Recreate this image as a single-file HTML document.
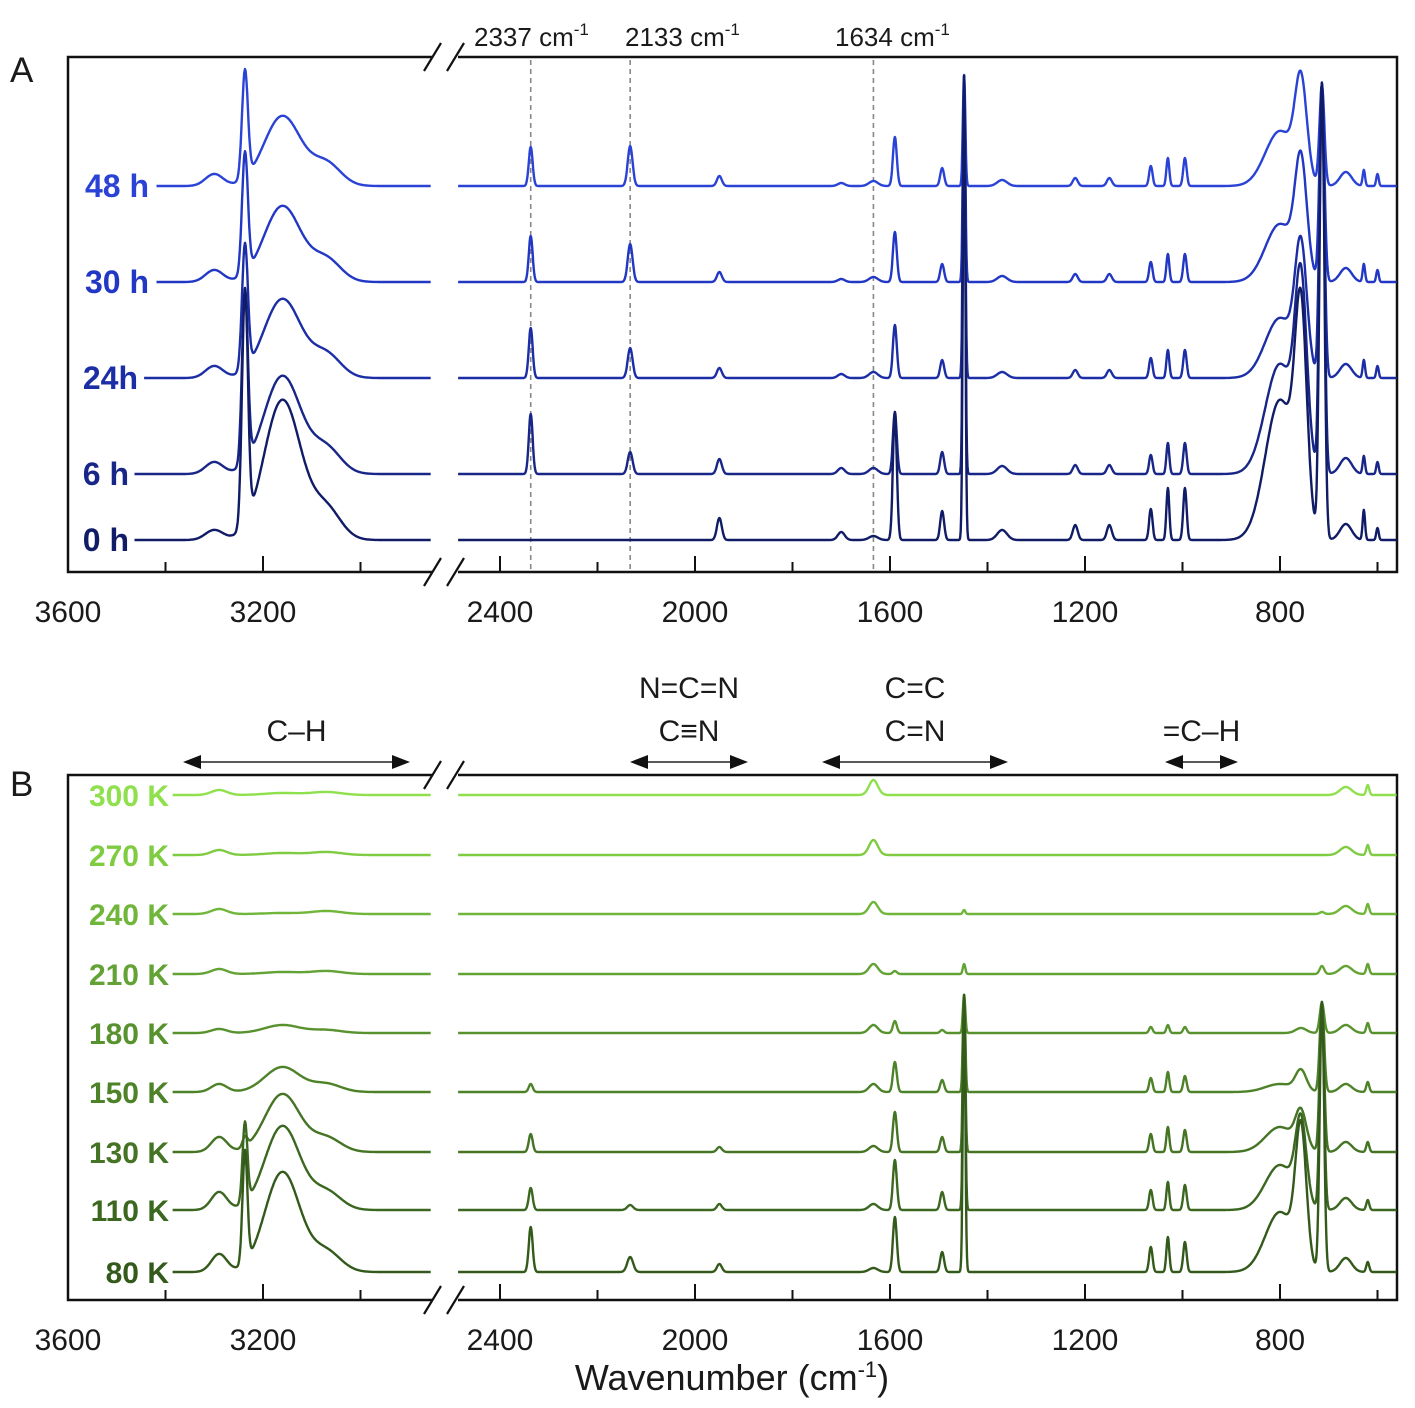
<!DOCTYPE html>
<html><head><meta charset="utf-8">
<style>
html,body{margin:0;padding:0;background:#fff;}
svg{display:block;font-family:"Liberation Sans",Arial,sans-serif;}
</style></head>
<body>
<svg id="chart" width="1415" height="1408" viewBox="0 0 1415 1408" xmlns="http://www.w3.org/2000/svg">
<g id="frameA"></g>
<g id="frameB"></g>
</svg>
<script>
// ---------- DATA ----------
const tickLabels = [3600, 3200, 2400, 2000, 1600, 1200, 800];
const minorTicks = [3400, 3000, 2200, 1800, 1400, 1000, 600];
const markerLines = [2337, 2133, 1634];

// Panel A peaks (cm-1) and widths (cm-1)
const peakCentersA = [3300, 3237, 3160, 3070, 2337, 2133, 1950, 1700, 1634, 1590, 1493, 1448, 1370, 1220, 1150, 1065, 1030, 995, 800, 757, 714, 665, 628, 600];
const peakWidthsA  = [18,   6,    38,   30,   4,    5,    5,    7,    9,    4,    4,    2.5,  10,   5,    5,    3.5,  3,    3.5,  30,   12,   5,    12,   2.5,  2.5];
const seriesNamesA = ["48 h", "30 h", "24h", "6 h", "0 h"];
const h48 = [12, 108, 70, 22, 39, 40, 10, 3, 5, 49, 18, 111, 6, 8, 8, 20, 28, 28, 55, 95, 100, 14, 16, 12];
const h30 = [12, 121, 76, 22, 46, 38, 10, 3, 5, 50, 18, 206, 6, 8, 8, 20, 28, 28, 58, 110, 197, 14, 18, 12];
const h24 = [12, 125, 79, 23, 50, 30, 10, 4, 6, 53, 18, 302, 6, 8, 8, 20, 28, 28, 60, 120, 293, 14, 18, 12];
const h6  = [12, 172, 98, 25, 60, 22, 15, 6, 6, 62, 22, 398, 8, 9, 9, 19, 31, 31, 110, 170, 389, 16, 18, 12];
const h0  = [10, 234, 140, 30, 0, 0, 22, 8, 4, 128, 29, 464, 10, 15, 15, 31, 52, 52, 140, 200, 455, 16, 30, 12];
const seriesA = [h48, h30, h24, h6, h0];

// Panel B
const peakCentersB = [3290, 3237, 3160, 3070, 2337, 2133, 1950, 1634, 1590, 1493, 1448, 1065, 1030, 995, 800, 757, 714, 665, 620];
const peakWidthsB  = [16,   5,    36,   30,   4,    6,    5,    9,    4,    4,    2.5,  3.5,  3,    3.5,  30,   11,   4.5,  12,   3];
const seriesNamesB = ["300 K", "270 K", "240 K", "210 K", "180 K", "150 K", "130 K", "110 K", "80 K"];
const k300 = [5, 0, 2, 3, 0, 0, 0, 15, 0, 0, 0, 0, 0, 0, 0, 0, 0, 8, 10];
const k270 = [5, 0, 2, 3, 0, 0, 0, 15, 0, 0, 0, 0, 0, 0, 0, 0, 0, 8, 10];
const k240 = [5, 0, 1, 3, 0, 0, 0, 12, 0, 0, 4, 0, 0, 0, 0, 0, 2, 8, 10];
const k210 = [5, 0, 2, 3, 0, 0, 0, 10, 3, 0, 10, 0, 0, 0, 0, 0, 8, 8, 10];
const k180 = [4, 0, 8, 3, 0, 0, 0, 8, 12, 3, 38, 6, 8, 6, 0, 5, 30, 8, 10];
const k150 = [8, 0, 25, 8, 8, 0, 0, 8, 30, 12, 97, 14, 20, 16, 8, 20, 90, 8, 10];
const k130 = [15, 10, 58, 14, 18, 0, 5, 6, 40, 15, 157, 18, 25, 22, 25, 35, 149, 10, 10];
const k110 = [18, 80, 84, 18, 22, 5, 6, 6, 50, 18, 215, 20, 28, 25, 45, 80, 207, 12, 10];
const k80  = [18, 112, 100, 20, 45, 15, 8, 4, 55, 20, 277, 25, 35, 30, 60, 130, 269, 14, 10];
const seriesB = [k300, k270, k240, k210, k180, k150, k130, k110, k80];

// ---------- LAYOUT ----------
const NS = "http://www.w3.org/2000/svg";
const svg = document.getElementById("chart");
const L = 68, R = 1397, BRK1 = 432, BRK2 = 458, PX = 0.4875;
function xScale(wn){ return wn > 2600 ? L + (3600 - wn) * PX : 500 + (2400 - wn) * PX; }
function mk(tag, attrs, parent){
  const e = document.createElementNS(NS, tag);
  for (const k in attrs) e.setAttribute(k, attrs[k]);
  (parent || svg).appendChild(e);
  return e;
}
function spectrum(wn, centers, widths, hs){
  let s = 0;
  for (let i = 0; i < centers.length; i++){
    const d = (wn - centers[i]) / widths[i];
    if (Math.abs(d) < 6) s += hs[i] * Math.exp(-0.5 * d * d);
  }
  return s;
}

function drawFrame(g, top, bot){
  const p = mk("path", {d:`M${BRK1},${top} H${L} V${bot} H${BRK1} M${BRK2},${top} H${R} V${bot} H${BRK2}`, fill:"none", stroke:"#111", "stroke-width":2.5}, g);
  
  
  [top, bot].forEach(y => {
    [[424,441],[447,464]].forEach(([a,b]) => {
      const s = mk("line", {x1:a, y1:y+14, x2:b, y2:y-14, stroke:"#111", "stroke-width":2.2}, g);
      
      
    });
  });
  tickLabels.forEach(t => {
    const x = xScale(t);
    if (t !== 3600){
      const tk = mk("line", {x1:x, y1:bot, x2:x, y2:bot-16, stroke:"#111", "stroke-width":2}, g);
      
      
    }
    const tl = mk("text", {x:x, y:bot+50, "text-anchor":"middle", "font-size":30, fill:"#1a1a1a"}, g);
    tl.textContent = t;
    
    
  });
  minorTicks.forEach(t => {
    const x = xScale(t);
    const tk = mk("line", {x1:x, y1:bot, x2:x, y2:bot-10, stroke:"#111", "stroke-width":2}, g);
    
    
  });
}

function drawSeries(g, centers, widths, hs, base, startX, color, name, lx, fs){
  let d1 = "", d2 = "";
  for (let wn = 3600; wn >= 2856; wn -= 1.5){
    const x = xScale(wn); if (x < startX) continue;
    d1 += (d1 ? "L" : "M") + x.toFixed(1) + "," + (base - spectrum(wn, centers, widths, hs)).toFixed(1);
  }
  for (let wn = 2486; wn >= 561; wn -= 1){
    const x = xScale(wn);
    d2 += (d2 ? "L" : "M") + x.toFixed(1) + "," + (base - spectrum(wn, centers, widths, hs)).toFixed(1);
  }
  const p = mk("path", {d:d1 + d2, fill:"none", stroke:color, "stroke-width":2.4, "stroke-linejoin":"round"}, g);
  
  
  const t = mk("text", {x:lx, y:base+11, "text-anchor":"end", "font-size":fs, "font-weight":"bold", fill:color}, g);
  t.textContent = name;
  
  
}

// ---------- PANEL A ----------
const gA = document.getElementById("frameA");
drawFrame(gA, 57, 572);
const markerLabelX = [474, 625, 835];
markerLines.forEach((m, i) => {
  const x = xScale(m);
  const dl = mk("line", {x1:x, y1:60, x2:x, y2:572, stroke:"#888", "stroke-width":1.6, "stroke-dasharray":"5,4"}, gA);
  
  
  const t = mk("text", {x:markerLabelX[i], y:46, "font-size":26, fill:"#1a1a1a"}, gA);
  
  
  t.innerHTML = m + ' cm<tspan dy="-11" font-size="17">-1</tspan>';
});
const baseA = [186, 282, 378, 474, 540];
const colA = ["#2a43d6", "#2238c4", "#1c2ea6", "#182688", "#111c66"];
const startA = [156, 156, 144, 134, 134];
const labXA = [149, 149, 138, 129, 129];
seriesA.forEach((hs, i) => drawSeries(gA, peakCentersA, peakWidthsA, hs, baseA[i], startA[i], colA[i], seriesNamesA[i], labXA[i], 32));
const lA = mk("text", {x:10, y:82, "font-size":35, fill:"#1a1a1a"});
lA.textContent = "A";



// ---------- PANEL B ----------
const gB = document.getElementById("frameB");
drawFrame(gB, 775, 1300);
const baseB = [795, 855, 914, 974, 1033, 1092, 1152, 1210, 1272];
const colB = ["#8ee04c", "#7fcc42", "#70b63a", "#63a234", "#58922e", "#4d8229", "#447424", "#3b6720", "#335a1b"];
baseB.forEach((b, i) => drawSeries(gB, peakCentersB, peakWidthsB, seriesB[i], b, 172, colB[i], seriesNamesB[i], 169, 30));
const lB = mk("text", {x:10, y:796, "font-size":35, fill:"#1a1a1a"});
lB.textContent = "B";



const annos = [
  {lines:["C\u2013H"], x1:183, x2:410},
  {lines:["N=C=N","C\u2261N"], x1:630, x2:748},
  {lines:["C=C","C=N"], x1:822, x2:1008},
  {lines:["=C\u2013H"], x1:1165, x2:1238}
];
annos.forEach(a => {
  const g = mk("g", {});
  
  
  mk("line", {x1:a.x1+14, y1:762, x2:a.x2-14, y2:762, stroke:"#222", "stroke-width":1.6}, g);
  mk("path", {d:`M${a.x1},762 L${a.x1+18},755 L${a.x1+18},769 Z M${a.x2},762 L${a.x2-18},755 L${a.x2-18},769 Z`, fill:"#111"}, g);
  const cx = (a.x1 + a.x2) / 2;
  a.lines.forEach((s, j) => {
    const y = 741 - (a.lines.length - 1 - j) * 43;
    const t = mk("text", {x:cx, y:y, "text-anchor":"middle", "font-size":30, fill:"#1a1a1a"}, g);
    t.textContent = s;
  });
});
const xt = mk("text", {x:732, y:1390, "text-anchor":"middle", "font-size":36, fill:"#1a1a1a"});


xt.innerHTML = 'Wavenumber (cm<tspan dy="-13" font-size="22">-1</tspan><tspan dy="13">)</tspan>';
</script>
</body></html>
